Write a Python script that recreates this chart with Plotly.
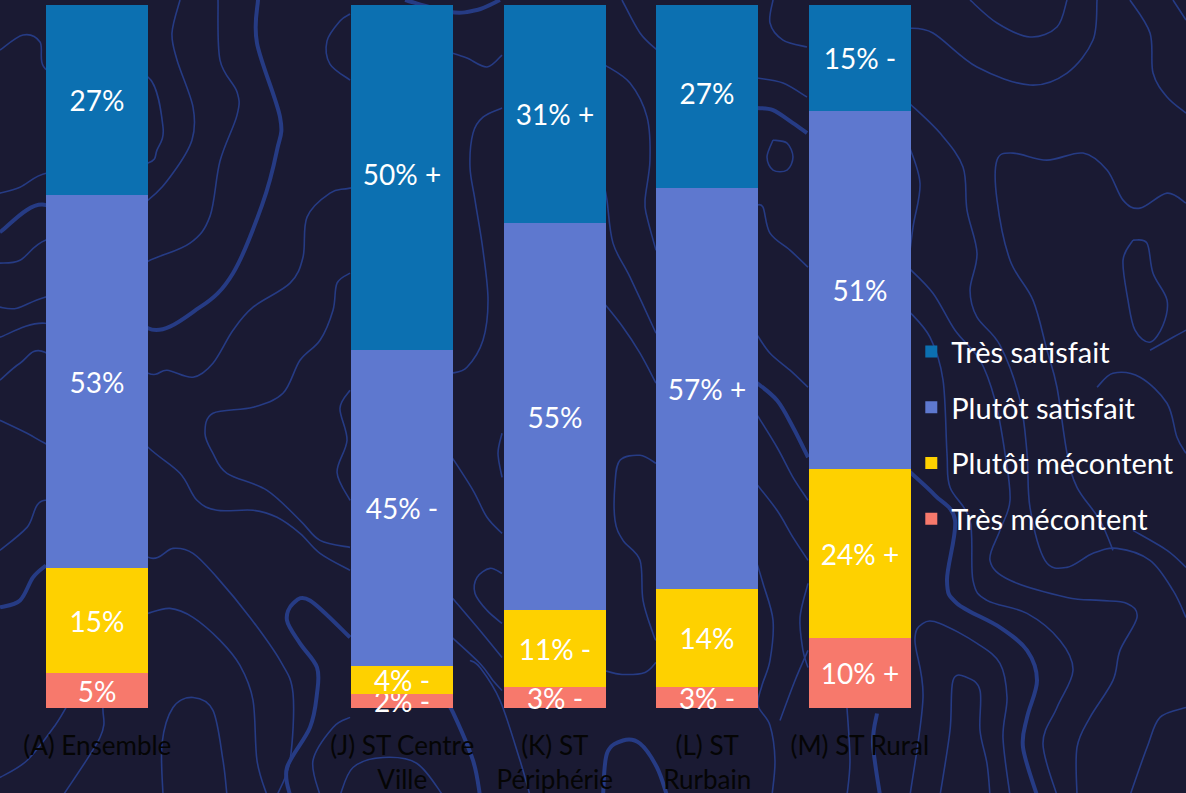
import plotly.graph_objects as go

# ---- survey results (percent of respondents) ----
categories = ["(A) Ensemble", "(J) ST Centre<br>Ville", "(K) ST<br>Périphérie",
              "(L) ST<br>Rurbain", "(M) ST Rural"]
x_slots = [0, 2, 3, 4, 5]          # slot 1 left empty as a separator

series_names = ["Très mécontent", "Plutôt mécontent", "Plutôt satisfait", "Très satisfait"]
tres_mecontent = [5, 2, 3, 3, 10]
plutot_mecontent = [15, 4, 11, 14, 24]
plutot_satisfait = [53, 45, 55, 57, 51]
tres_satisfait = [27, 50, 31, 27, 15]

# significance flags versus the whole sample
sig_tres_mecontent = ["", "-", "-", "-", "+"]
sig_plutot_mecontent = ["", "-", "-", "", "+"]
sig_plutot_satisfait = ["", "-", "", "+", ""]
sig_tres_satisfait = ["", "+", "+", "", "-"]

series_values = [tres_mecontent, plutot_mecontent, plutot_satisfait, tres_satisfait]
series_flags = [sig_tres_mecontent, sig_plutot_mecontent, sig_plutot_satisfait, sig_tres_satisfait]
series_colors = ["#f7796c", "#fed100", "#5e78cf", "#0c70b1"]

W, H = 1186, 793
Y_MIN = -1.5                      # a little room under the baseline for the thin labels
M_L, M_R, M_T = 21, 250, 5
M_B = H - (708 + (-Y_MIN) * 7.03)
BG = "#1a1a33"
FONT = "Lato"

fig = go.Figure()
for i, (name, vals, flags, col) in enumerate(zip(series_names, series_values, series_flags, series_colors)):
    labels = [f"{v}%" + (f" {f}" if f else "") for v, f in zip(vals, flags)]
    fig.add_trace(go.Bar(
        x=x_slots, y=vals, name=name, marker=dict(color=col, line=dict(width=0)),
        width=0.667, text=labels, textposition="inside", insidetextanchor="middle",
        textfont=dict(color="white", size=28, family=FONT),
        legendgroup=name, legendrank=len(series_names) - i, hoverinfo="skip",
    ))

# ---- topographic backdrop drawn as smooth curves (pixel space of the page) ----
thin_lines = [
    [(0, 50), (23, 35), (40, 42), (47, 70), (100, 80), (148, 77), (163, 127), (157, 150), (148, 163), (100, 170), (47, 173), (20, 187), (0, 193)],
    [(180, 0), (172, 33), (177, 60), (193, 107), (192, 140), (173, 173), (148, 200), (100, 230), (46, 240), (20, 260), (0, 263)],
    [(218, 0), (220, 60), (237, 92), (237, 115), (220, 161), (210, 216), (190, 243), (148, 261), (100, 285), (45, 297), (17, 308), (0, 307)],
    [(0, 337), (45, 323), (100, 345), (148, 373), (167, 370), (193, 377), (213, 363), (233, 330), (253, 307), (290, 283), (303, 257), (307, 217), (330, 193), (350, 188), (400, 180)],
    [(0, 380), (20, 363), (45, 352), (100, 400), (148, 447), (180, 473), (197, 500), (217, 510), (253, 510), (277, 517), (300, 533), (320, 553), (350, 570)],
    [(0, 420), (27, 433), (45, 443), (80, 460)],
    [(350, 547), (320, 540), (300, 520), (267, 490), (227, 473), (213, 453), (205, 433), (213, 413), (253, 407), (283, 393), (300, 360), (320, 340), (333, 310), (337, 283), (350, 273)],
    [(0, 550), (27, 527), (45, 500), (100, 520), (148, 557), (173, 548), (193, 553), (217, 577), (250, 617), (280, 660), (293, 693), (290, 760), (277, 795)],
    [(148, 613), (170, 608), (193, 617), (220, 640), (240, 665), (253, 700), (257, 760), (267, 795)],
    [(0, 777), (27, 760), (55, 725), (70, 700)],
    [(63, 795), (100, 737), (103, 710), (100, 690)],
    [(163, 795), (162, 743), (173, 707), (193, 697), (213, 710), (223, 760), (227, 795)],
    [(320, 795), (313, 760), (333, 727), (350, 717)],
    [(340, 795), (353, 767), (383, 757), (417, 763), (443, 795)],
    [(470, 660), (480, 667), (500, 700), (520, 760), (530, 795)],
    [(604, 670), (622, 674), (645, 672), (656, 662)],
    [(808, 650), (795, 680), (780, 720)],
    [(756, 560), (763, 583), (773, 620), (770, 660), (762, 685), (758, 705), (770, 725), (775, 760), (772, 795)],
    [(808, 583), (800, 617), (803, 650), (808, 667)],
    [(847, 707), (850, 760), (847, 795)],
    # gaps between the bars
    [(452, 53), (467, 58), (487, 67), (502, 55)],
    [(502, 108), (483, 117), (473, 133), (470, 167), (475, 200), (483, 250), (488, 300), (483, 340), (467, 367), (452, 373)],
    [(605, 65), (630, 83), (647, 117), (650, 160), (645, 200), (647, 217), (656, 250)],
    [(604, 185), (607, 200), (613, 243), (630, 277), (656, 333)],
    [(622, 0), (640, 33), (657, 50)],
    [(452, 457), (473, 490), (487, 517), (502, 533)],
    [(502, 433), (498, 453), (502, 477)],
    [(502, 573), (490, 568), (477, 577), (475, 593), (487, 610), (502, 623)],
    [(452, 597), (480, 630), (502, 657)],
    [(452, 637), (480, 663), (493, 680), (502, 690)],
    [(604, 303), (623, 327), (640, 353), (656, 383)],
    [(656, 463), (640, 455), (620, 460), (615, 483), (615, 520), (623, 540), (640, 560), (643, 600), (653, 633), (656, 640)],
    [(757, 78), (783, 83), (807, 97)],
    [(773, 140), (767, 157), (773, 170), (787, 170), (793, 157), (787, 143), (773, 140)],
    [(773, 0), (770, 23), (783, 40), (807, 47)],
    [(756, 205), (763, 207), (770, 233), (790, 250), (808, 267)],
    [(756, 333), (770, 353), (790, 370), (808, 387)],
    [(756, 413), (777, 447), (793, 477), (808, 500)],
    [(756, 483), (777, 510), (793, 537), (808, 560)],
    [(350, 80), (330, 64), (327, 41), (340, 21), (350, 14)],
    [(350, 390), (340, 408), (347, 440), (337, 472), (350, 500)],
    # right-hand side
    [(908, 28), (933, 33), (977, 67), (1030, 85), (1067, 73), (1093, 40), (1097, 0)],
    [(970, 0), (997, 23), (1030, 37), (1057, 27), (1067, 0)],
    [(1130, 0), (1150, 33), (1153, 73), (1167, 97), (1186, 113)],
    [(1173, 0), (1186, 20)],
    [(908, 102), (940, 133), (963, 167), (967, 210), (977, 253), (970, 290), (977, 317), (1000, 345), (1020, 400), (1027, 453), (1030, 507), (1045, 560), (1067, 567), (1093, 553), (1117, 548), (1150, 560), (1173, 590), (1186, 617)],
    [(908, 143), (920, 183), (913, 227), (908, 267)],
    [(908, 267), (933, 293), (955, 330), (980, 360), (995, 400), (1005, 453), (1010, 500), (1000, 530), (990, 560), (1010, 580), (1067, 597), (1100, 600), (1127, 603), (1137, 617), (1120, 650), (1113, 680), (1090, 717), (1077, 747), (1077, 795)],
    [(908, 310), (930, 337), (943, 380), (947, 453), (950, 487), (970, 520), (973, 580), (987, 600), (1027, 613), (1060, 640), (1073, 670), (1057, 707), (1043, 743), (1057, 795)],
    [(1113, 550), (1100, 520), (1077, 487), (1067, 453), (1057, 387), (1047, 350), (1033, 300), (1010, 260), (997, 200), (997, 160), (1013, 153), (1047, 160), (1083, 153), (1107, 170), (1123, 200), (1140, 208), (1167, 193), (1186, 203)],
    [(1133, 240), (1123, 260), (1128, 300), (1135, 330), (1150, 342), (1163, 325), (1167, 300), (1153, 273), (1147, 243), (1133, 240)],
    [(1097, 387), (1113, 373), (1140, 377), (1167, 403), (1177, 437), (1186, 453)],
    [(1133, 530), (1167, 550), (1186, 567)],
    [(910, 795), (923, 697), (915, 640), (923, 623), (940, 623), (977, 643), (1000, 663), (1007, 697), (1003, 737), (1010, 795)],
    [(940, 795), (950, 730), (953, 680), (967, 677), (980, 690), (980, 730), (987, 763), (990, 795)],
    [(1186, 707), (1160, 717), (1147, 747), (1130, 795)],
    [(1186, 330), (1173, 337), (1150, 350)],
]
thick_lines = [
    [(0, 232), (46, 205), (100, 260), (148, 328), (200, 307), (233, 273), (262, 205), (277, 150), (280, 117), (257, 43), (258, 0)],
    [(350, 637), (310, 600), (293, 603), (287, 620), (300, 643), (317, 667), (317, 693), (310, 727), (287, 767), (290, 795)],
    [(0, 607), (20, 600), (33, 577), (46, 565)],
    [(445, 700), (453, 712), (473, 760), (480, 795)],
    [(603, 795), (607, 753), (623, 740), (640, 743), (657, 767), (667, 795)],
    [(877, 713), (873, 743), (880, 795)],
    [(405, 0), (450, 12), (477, 10), (500, 0)],
    [(757, 108), (773, 110), (793, 123), (807, 133)],
    [(756, 382), (777, 400), (793, 427), (808, 457)],
    [(908, 470), (935, 495), (955, 520), (947, 580), (957, 603), (1000, 627), (1027, 650), (1037, 680), (1027, 717), (1023, 747), (1037, 795)],
]

plot_w = W - M_L - M_R
plot_h = H - M_T - M_B


def to_paper(pt):
    return ((pt[0] - M_L) / plot_w, (H - M_B - pt[1]) / plot_h)


def smooth_path(points):
    pts = [to_paper(p) for p in points]
    d = f"M {pts[0][0]:.4f},{pts[0][1]:.4f}"
    n = len(pts)
    for i in range(n - 1):
        p0 = pts[i - 1] if i > 0 else pts[i]
        p1, p2 = pts[i], pts[i + 1]
        p3 = pts[i + 2] if i + 2 < n else pts[i + 1]
        c1 = (p1[0] + (p2[0] - p0[0]) / 6, p1[1] + (p2[1] - p0[1]) / 6)
        c2 = (p2[0] - (p3[0] - p1[0]) / 6, p2[1] - (p3[1] - p1[1]) / 6)
        d += f" C {c1[0]:.4f},{c1[1]:.4f} {c2[0]:.4f},{c2[1]:.4f} {p2[0]:.4f},{p2[1]:.4f}"
    return d


shapes = []
for pts, w in [(p, 1.6) for p in thin_lines] + [(p, 4) for p in thick_lines]:
    shapes.append(dict(type="path", path=smooth_path(pts), xref="paper", yref="paper",
                       line=dict(color="#263b84", width=w), layer="below"))

# legend centre expressed in the plot's paper units
legend_y = (H - M_B - 435) / plot_h

fig.update_layout(
    width=W, height=H,
    margin=dict(l=M_L, r=M_R, t=M_T, b=M_B),
    paper_bgcolor=BG, plot_bgcolor=BG,
    barmode="stack", bargap=0,
    shapes=shapes,
    font=dict(family=FONT),
    uniformtext=dict(minsize=28, mode="show"),
    showlegend=True,
    legend=dict(
        x=0.973, xanchor="left", y=legend_y, yanchor="middle",
        traceorder="grouped", tracegroupgap=15,
        font=dict(color="white", size=29, family=FONT),
        bgcolor="rgba(0,0,0,0)",
    ),
    xaxis=dict(
        range=[-0.5, 5.5], tickmode="array", tickvals=x_slots, ticktext=categories,
        tickfont=dict(color="#050505", size=26, family=FONT),
        showgrid=False, zeroline=False, showline=False, ticks="", ticklabelstandoff=9,
        automargin=False, fixedrange=True,
    ),
    yaxis=dict(range=[Y_MIN, 100], visible=False, showgrid=False, zeroline=False,
               automargin=False, fixedrange=True),
)

fig.write_html("out.html")
